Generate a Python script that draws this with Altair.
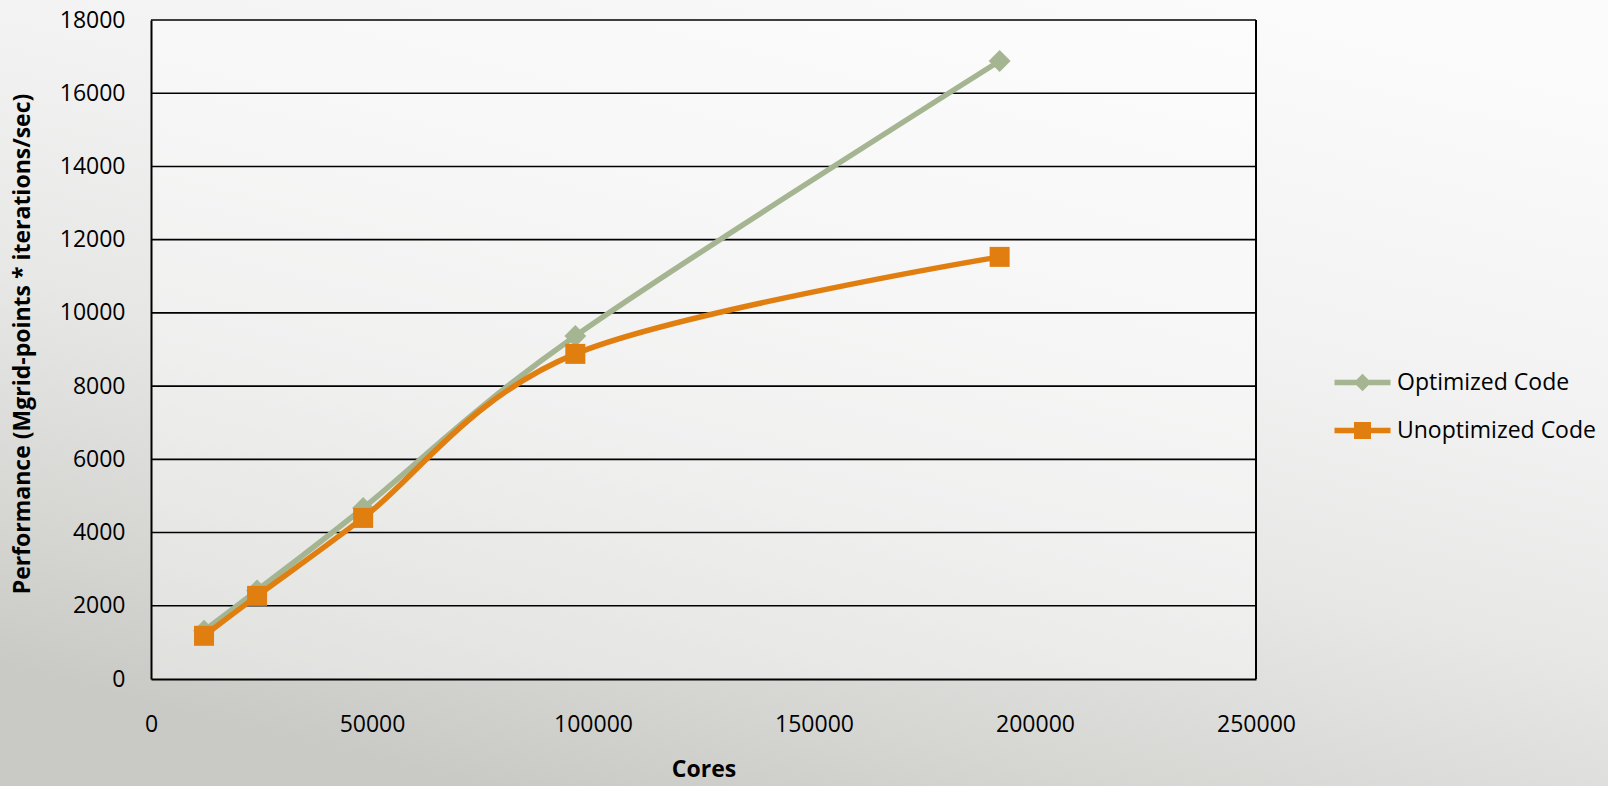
import altair as alt
import pandas as pd

# Scaling runs: performance vs. number of cores
cores = [12000, 24000, 48000, 96000, 192000]
optimized = [1320, 2420, 4670, 9370, 16880]
unoptimized = [1180, 2270, 4400, 8880, 11530]

series_names = ["Optimized Code", "Unoptimized Code"]
series_colors = ["#a5b592", "#e07e10"]
series_shapes = ["diamond", "square"]
series_marker_sizes = [480, 400]

y_ticks = [0, 2000, 4000, 6000, 8000, 10000, 12000, 14000, 16000, 18000]
x_ticks = [0, 50000, 100000, 150000, 200000, 250000]

x_title = "Cores"
y_title = "Performance (Mgrid-points * iterations/sec)"

PLOT_W, PLOT_H = 1105, 659
PAD = {"left": 151, "top": 20, "right": 1608 - 151 - 1105, "bottom": 786 - 20 - 659}
FONT = "Open Sans"

perf = pd.DataFrame({
    "cores": cores + cores,
    "perf": optimized + unoptimized,
    "series": [series_names[0]] * len(cores) + [series_names[1]] * len(cores),
})

x_scale = alt.Scale(domain=[x_ticks[0], x_ticks[-1]], nice=False)
y_scale = alt.Scale(domain=[y_ticks[0], y_ticks[-1]], nice=False)

x_axis = alt.Axis(
    values=x_ticks, format="d", grid=False, ticks=False,
    domainColor="#000000", domainWidth=2,
    labelFont=FONT, labelFontSize=23, labelColor="#000000", labelPadding=34,
    labelFlush=False, labelOverlap=False,
    titleFont=FONT, titleFontSize=23, titleFontWeight="bold", titleColor="#000000",
    titleY=90, titleBaseline="middle",
    zindex=1,
)
y_axis = alt.Axis(
    values=y_ticks, format="d", grid=False, ticks=False,
    domainColor="#000000", domainWidth=2,
    labelFont=FONT, labelFontSize=23, labelColor="#000000", labelPadding=26,
    labelFlush=False, labelOverlap=False,
    titleFont=FONT, titleFontSize=23, titleFontWeight="bold", titleColor="#000000",
    titleX=-129, titleY=PLOT_H / 2 - 6, titleBaseline="middle", titleAlign="center",
    zindex=1,
)

# soft grey slide backdrop behind the whole figure
backdrop_fill = {
    "gradient": "linear",
    "x1": 0.8, "y1": 0.0, "x2": 0.3, "y2": 1.0,
    "stops": [
        {"offset": 0.0, "color": "#fbfbfb"},
        {"offset": 0.35, "color": "#f2f2f2"},
        {"offset": 0.6, "color": "#e7e7e6"},
        {"offset": 0.85, "color": "#d5d5d2"},
        {"offset": 1.0, "color": "#c9c9c5"},
    ],
}
backdrop = alt.Chart(pd.DataFrame({"panel": ["backdrop"]})).mark_rect(
    color=backdrop_fill, strokeWidth=0
).encode(
    x=alt.value(-PAD["left"]),
    x2=alt.value(PLOT_W + PAD["right"]),
    y=alt.value(-PAD["top"]),
    y2=alt.value(PLOT_H + PAD["bottom"]),
)
# plot area is slightly lighter than the slide around it
plot_wash = alt.Chart(pd.DataFrame({"panel": ["plot"]})).mark_rect(
    color="#ffffff", opacity=0.4, strokeWidth=0
).encode(x=alt.value(0), x2=alt.value(PLOT_W), y=alt.value(0), y2=alt.value(PLOT_H))

# horizontal gridlines (the top one closes the plot frame)
gridlines = alt.Chart(pd.DataFrame({"level": y_ticks[1:]})).mark_rule(
    color="#000000", strokeWidth=1.6
).encode(y=alt.Y("level:Q", scale=y_scale, axis=y_axis, title=y_title))

# right edge of the plot frame
right_edge = alt.Chart(pd.DataFrame({"edge": [x_ticks[-1]]})).mark_rule(
    color="#000000", strokeWidth=2
).encode(x=alt.X("edge:Q", scale=x_scale, axis=x_axis, title=x_title))

# legend symbols: a short line with the series marker on it
legend_paths = [
    "M-5.6,-0.55H5.6V0.55H-5.6Z M0,-1.75L1.75,0L0,1.75L-1.75,0Z",
    "M-5.6,-0.55H5.6V0.55H-5.6Z M-1.7,-1.7H1.7V1.7H-1.7Z",
]
legend_tops = [351, 399]

x_enc = alt.X("cores:Q", scale=x_scale, axis=x_axis, title=x_title)
y_enc = alt.Y("perf:Q", scale=y_scale, axis=y_axis, title=y_title)


def series_layers(i):
    name = series_names[i]
    src = alt.Chart(perf).transform_filter(alt.datum.series == name)
    line = src.mark_line(interpolate="cardinal", strokeWidth=5.5, color=series_colors[i]).encode(
        x=x_enc, y=y_enc
    )
    legend = alt.Legend(
        title=None,
        orient="none",
        legendX=1200,
        legendY=legend_tops[i],
        padding=0,
        labelFont=FONT,
        labelFontSize=23,
        labelColor="#000000",
        labelOffset=23,
        labelLimit=400,
        symbolSize=100,
        symbolType=legend_paths[i],
        symbolStrokeWidth=0,
        symbolOpacity=1,
    )
    pts = src.mark_point(
        filled=True, opacity=1, size=series_marker_sizes[i], shape=series_shapes[i]
    ).encode(
        x=x_enc, y=y_enc,
        color=alt.Color("series:N", scale=alt.Scale(domain=[name], range=[series_colors[i]]), legend=legend),
    )
    return line, pts


opt_line, opt_pts = series_layers(0)
unopt_line, unopt_pts = series_layers(1)

chart = alt.layer(
    backdrop, plot_wash, gridlines, right_edge, opt_line, opt_pts, unopt_line, unopt_pts
).resolve_scale(color="independent").properties(
    width=PLOT_W,
    height=PLOT_H,
    padding=PAD,
    autosize=alt.AutoSizeParams(type="none"),
    background="#f2f2f2",
).configure_view(stroke=None)

chart.save("out.html", embed_options={"renderer": "svg", "actions": False})
